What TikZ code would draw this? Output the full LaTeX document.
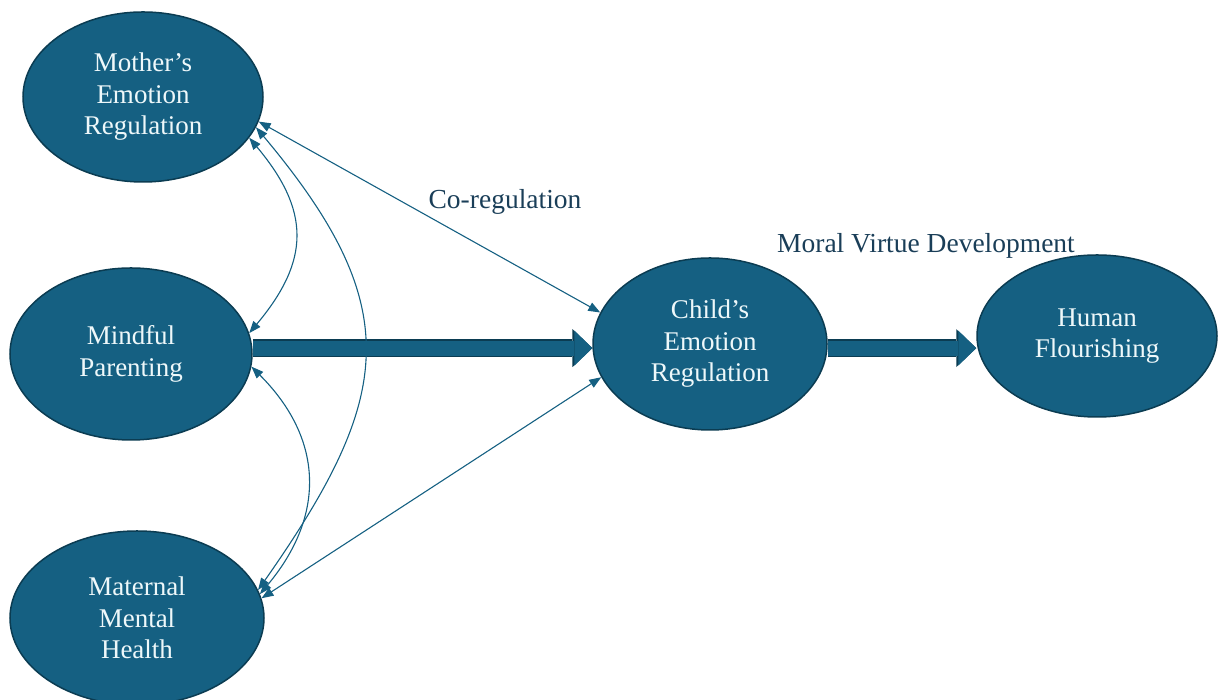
\documentclass[tikz,border=0pt]{standalone}
\usepackage{fontspec}
\setmainfont{Liberation Serif}
\usepackage{tikz}
\usetikzlibrary{shapes, positioning, calc, arrows.meta}
\definecolor{ovalfill}{HTML}{156082}
\definecolor{ovaledge}{HTML}{0B3C52}
\definecolor{ovaltext}{HTML}{EEF8FA}
\definecolor{labeltext}{HTML}{1A3E58}

\begin{document}
\begin{tikzpicture}[x=1pt, y=1pt,
    construct/.style={ellipse, 
      draw=ovaledge, 
      line width=1.5pt, 
      fill=ovalfill, 
      text=ovaltext, 
      inner sep=0pt, 
      align=center, 
      font=\fontsize{27}{31.5}\selectfont},
    link/.style={draw=ovalfill, 
      line width=1.1pt, 
      {Triangle[length=12pt, width=9pt]}-{Triangle[length=12pt, width=9pt]}},
    flow/.style={draw=ovalfill, 
      line width=15pt, 
      -{Triangle[length=18pt, width=35pt, line width=0pt]}, 
      preaction={draw=ovaledge, line width=17.5pt, 
        -{Triangle[length=20pt, width=38pt, line width=0pt]}}},
    pathlabel/.style={text=labeltext, 
      font=\fontsize{27.5}{32}\selectfont}]
  \useasboundingbox (0,0) rectangle (1218,700);

  % CONSTRUCTS

  \node [construct, 
    minimum width=240pt, 
    minimum height=170pt] (mother) at (143,603) {Mother’s\\Emotion\\Regulation};

  \node [construct, 
    minimum width=242pt, 
    minimum height=172pt] (mindful) at (131,346) {Mindful\\Parenting};

  \node [construct, 
    minimum width=254pt, 
    minimum height=174pt] (maternal) at (137,82) {Maternal\\Mental\\Health};

  \node [construct, 
    minimum width=234pt, 
    minimum height=172pt] (child) at (710,356) {Child’s\\Emotion\\Regulation};

  \node [construct, 
    minimum width=240pt, 
    minimum height=162pt] (human) at (1097,364) {Human\\Flourishing};

  % PATH LABELS

  \node [pathlabel] (coreg) at (505,498) {Co-regulation};
  \node [pathlabel] (moral) at (926,454) {Moral Virtue Development};

  % MAIN PATHS

  \draw[flow] (mindful.east |- child.182) -- (child.182);
  \draw[flow] (child.-2) -- (human.west |- child.-2);

  % CORRELATIONS AND CO-REGULATION

  \draw[link] (mother.-12) -- (child.164);
  \draw[link] (maternal.9) -- (child.-163);

  \draw[link] (mother.-21) to[out=-50, in=50, looseness=1.25] (mindful.10);
  \draw[link] (mother.-15) to[out=-50, in=55, looseness=1.3] (maternal.13);
  \draw[link] (mindful.-6) to[out=-45, in=50, looseness=1.15] (maternal.11);

\end{tikzpicture}
\end{document}
